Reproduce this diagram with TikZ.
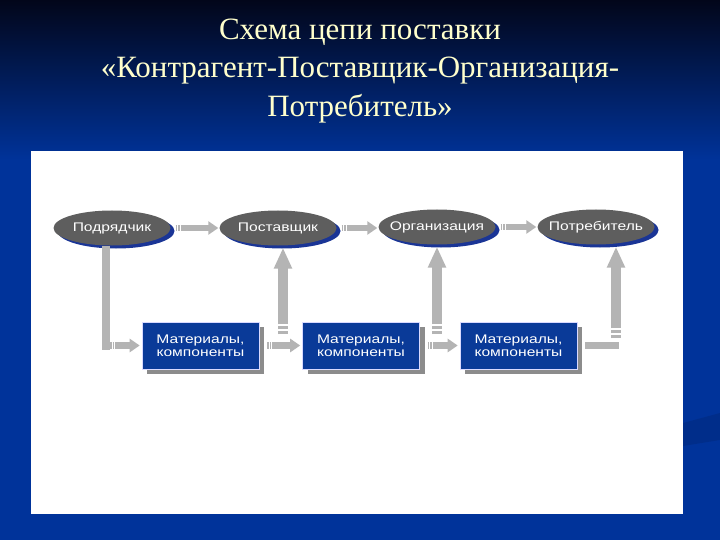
\documentclass[tikz,border=0pt]{standalone}
\usepackage{fontspec}
\setmainfont{Liberation Serif}
\newfontfamily\diagfont[FakeStretch=1.25]{Liberation Sans}
\usetikzlibrary{shapes.geometric,shadows,arrows.meta}
\definecolor{slideblue}{HTML}{00339A}
\definecolor{slidetop}{HTML}{02061A}
\definecolor{titleyellow}{HTML}{FFFFCC}
\definecolor{ovalgray}{HTML}{5E5E5E}
\definecolor{ovalshadow}{HTML}{1A3596}
\definecolor{boxblue}{HTML}{0A3A98}
\definecolor{boxshadow}{HTML}{8C8C8C}
\definecolor{arrowgray}{HTML}{B4B4B4}
\begin{document}
\begin{tikzpicture}[x=1pt, y=-1pt,
    party/.style={ellipse, fill=ovalgray, minimum width=117pt,
      minimum height=35pt, inner xsep=-20pt, inner ysep=0pt, text=white,
      font=\diagfont\fontsize{12.5}{13}\selectfont,
      drop shadow={shadow xshift=4pt, shadow yshift=-3pt,
        fill=ovalshadow, opacity=1}},
    stock/.style={rectangle, fill=boxblue, draw=blue!15, line width=0.6pt,
      minimum width=117pt, minimum height=47pt, inner sep=0pt,
      align=center, text=white,
      font=\diagfont\fontsize{12.5}{13}\selectfont,
      drop shadow={shadow xshift=5pt, shadow yshift=-5pt,
        fill=boxshadow, opacity=1}},
    flow/.style={color=arrowgray, line width=6.5pt,
      -{Triangle[length=10pt, width=13pt]},
      dash pattern=on 1.5pt off 1pt on 1.5pt off 1pt on 600pt off 1pt},
    riser/.style={color=arrowgray, line width=9.5pt,
      -{Triangle[length=21pt, width=17pt]},
      dash pattern=on 3.5pt off 1.5pt on 3.5pt off 1.5pt on 600pt off 1pt},
    rail/.style={draw=arrowgray, line width=8pt}]
  % slide background
  \useasboundingbox (0,0) rectangle (720,540);
  \fill[slideblue] (0,0) rectangle (720,540);
  \shade[top color=slidetop, bottom color=slideblue] (0,0) rectangle (720,160);
  \fill[slideblue!80!black, opacity=0.5] (683,423) -- (720,413) -- (720,440) -- (683,446) -- cycle;
  \fill[white] (31,151) rectangle (683,514);
  \node[text=titleyellow, align=center, font=\fontsize{31}{38.5}\selectfont]
    (title) at (360,71) {Схема цепи поставки\\«Контрагент-Поставщик-Организация-\\Потребитель»};

  % chain
  \node[party] (sub)  at (112,228) {Подрядчик};
  \node[party] (sup)  at (278,228) {Поставщик};
  \node[party] (org)  at (437,227) {Организация};
  \node[party] (cons) at (596,227) {Потребитель};
  \node[stock] (mat1) at (200.5,345.5) {Материалы,\\компоненты};
  \node[stock] (mat2) at (361,345.5) {Материалы,\\компоненты};
  \node[stock] (mat3) at (518.5,345.5) {Материалы,\\компоненты};
  \coordinate (elbow) at (106,345.5);
  \coordinate (up1) at (283,334);
  \coordinate (up2) at (437,334);
  \coordinate (up3) at (616,338);

  \path[flow, shorten <=5pt, shorten >=1pt]
    (sub.east) edge (sup.west)
    (sup.east) edge (sup.east -| org.west)
    (org.east) edge (cons.west);
  \draw[rail, shorten >=-4pt] (sub.south -| elbow) -- (elbow);
  \path[flow, shorten <=4pt, shorten >=2pt]
    (elbow) edge (mat1.west);
  \path[flow, shorten <=8pt, shorten >=2pt]
    (mat1.east) edge (mat2.west)
    (mat2.east) edge (mat3.west);
  \draw[draw=arrowgray, line width=6.5pt, shorten <=8pt]
    (mat3.east) -- (mat3.east -| up3) -- ++(3,0);
  \path[riser, shorten >=2pt]
    (up1) edge (up1 |- sup.south)
    (up2) edge (up2 |- org.south)
    (up3) edge (up3 |- cons.south);
\end{tikzpicture}
\end{document}
